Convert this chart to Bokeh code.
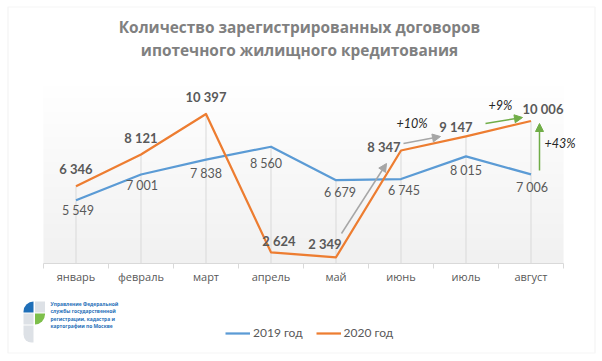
import numpy as np
from bokeh.plotting import figure
from bokeh.models import (Range1d, FixedTicker, Legend, LegendItem, Label,
                          BoxAnnotation, Arrow, NormalHead)
from bokeh.core.properties import value
from bokeh.embed import file_html
from bokeh.resources import INLINE

# ---------------- data ----------------
months = ["январь", "февраль", "март", "апрель", "май", "июнь", "июль", "август"]
y2019 = [5549, 7001, 7838, 8560, 6679, 6745, 8015, 7006]
y2020 = [6346, 8121, 10397, 2624, 2349, 8347, 9147, 10006]
series_names = ["2019 год", "2020 год"]
title_lines = ["Количество зарегистрированных договоров",
               "ипотечного жилищного кредитования"]
growth_labels = ["+10%", "+9%", "+43%"]
logo_lines = ["Управление Федеральной", "службы государственной",
              "регистрации, кадастра и", "картографии по Москве"]
y_min, y_max = 2000, 12000

# ---------------- styles / layout ----------------
BLUE = "#5b9bd5"
ORANGE = "#ed7d31"
GREY_TXT = "#595959"
GRID = "#d9d9d9"
W, H = 602, 361
# plot-area box on the canvas (pixels): left, top, right, bottom
PL, PT, PR, PB = 43, 85, 563, 263

# label offsets (pixels) relative to points
dx2020 = [0, 0, 0, 8, -11, -17, -10, 12]
dy2020 = [-17, -17, -17, -11, -13, -4, -9, -12]
dx2019 = [2, 1, 0, -5, 4, 3, 0, 1]
dy2019 = [10, 11, 14, 17, 12, 11, 14, 13]


def fmt(v):
    return f"{v:,}".replace(",", " ")


x = list(range(1, len(months) + 1))
x_lo, x_hi = 0.5, len(months) + 0.5
sx = (x_hi - x_lo) / (PR - PL)          # data units per pixel
sy = (y_max - y_min) / (PB - PT)
x_range = Range1d(x_lo - PL * sx, x_hi + (W - PR) * sx)
y_range = Range1d(y_min - (H - PB) * sy, y_max + PT * sy)

p = figure(width=W, height=H, output_backend="svg", toolbar_location=None,
           x_range=x_range, y_range=y_range, y_axis_location=None,
           min_border=0)
p.outline_line_color = None
p.xgrid.visible = False
p.ygrid.visible = False
p.background_fill_color = "white"
p.border_fill_color = "white"

# gradient background of the plot area
n = 120
shade = np.linspace(241, 255, n).astype(np.uint32)
img = np.empty((n, 1), dtype=np.uint32)
view = img.view(dtype=np.uint8).reshape((n, 1, 4))
view[:, 0, 0] = shade
view[:, 0, 1] = shade
view[:, 0, 2] = shade
view[:, 0, 3] = 255
p.image_rgba(image=[img], x=x_lo, y=y_min, dw=x_hi - x_lo, dh=y_max - y_min)

# drop lines
tops = [max(a, b) for a, b in zip(y2019, y2020)]
p.segment(x0=x, y0=[y_min] * len(x), x1=x, y1=tops, line_color=GRID, line_width=1)

r19 = p.line(x, y2019, line_color=BLUE, line_width=2.25, line_join="round")
r20 = p.line(x, y2020, line_color=ORANGE, line_width=2.25, line_join="round")

# data labels
p.text(x=x, y=y2019, text=[fmt(v) for v in y2019], x_offset=dx2019, y_offset=dy2019,
       text_align="center", text_baseline="middle", text_font=value("Lato"),
       text_font_size="12.5px", text_color=GREY_TXT)
p.text(x=x, y=y2020, text=[fmt(v) for v in y2020], x_offset=dx2020, y_offset=dy2020,
       text_align="center", text_baseline="middle", text_font=value("Lato"),
       text_font_style="bold", text_font_size="13px", text_color=GREY_TXT)

# x axis, drawn at the bottom of the plot area
ax = p.xaxis[0]
ax.fixed_location = y_min
ax.bounds = (x_lo, x_hi)
ax.ticker = FixedTicker(ticks=x, minor_ticks=[i + 0.5 for i in range(len(months) + 1)])
ax.major_label_overrides = {i: m for i, m in zip(x, months)}
ax.major_tick_line_color = None
ax.major_tick_in = 0
ax.major_tick_out = 0
ax.minor_tick_in = 0
ax.minor_tick_out = 5
ax.minor_tick_line_color = GRID
ax.axis_line_color = GRID
ax.major_label_standoff = 0
ax.major_label_text_font = "Open Sans"
ax.major_label_text_font_size = "11px"
ax.major_label_text_color = GREY_TXT

# legend
legend = Legend(items=[LegendItem(label=series_names[0], renderers=[r19]),
                       LegendItem(label=series_names[1], renderers=[r20])],
                location=(225, 21), orientation="horizontal",
                padding=0, margin=0, spacing=13, label_standoff=3,
                glyph_width=25, glyph_height=14, label_height=14,
                border_line_color=None, background_fill_alpha=0,
                label_text_font="Lato", label_text_font_size="12px",
                label_text_color=GREY_TXT)
p.add_layout(legend)

# title
for i, t in enumerate(title_lines):
    p.add_layout(Label(x=299, y=27 + 23 * i, x_units="canvas", y_units="canvas",
                       text=t, text_align="center", text_baseline="middle",
                       text_font="Open Sans", text_font_style="bold",
                       text_font_size="15.4px", text_color="#808080"))

# growth arrows and labels
arrows = [((341, 233), (386, 163), "#a6a6a6"),
          ((403, 143), (440, 136), "#a6a6a6"),
          ((485, 123), (522, 117), "#70ad47"),
          ((539, 170), (539, 123), "#70ad47")]
for (x0, y0), (x1, y1), c in arrows:
    p.add_layout(Arrow(x_start=x0, y_start=y0, x_end=x1, y_end=y1,
                       start_units="canvas", end_units="canvas",
                       line_color=c, line_width=1.5,
                       end=NormalHead(size=8, fill_color=c, line_color=c)))
for t, (cx, cy) in zip(growth_labels, [(411.5, 123), (500, 105), (559.5, 143)]):
    p.add_layout(Label(x=cx, y=cy, x_units="canvas", y_units="canvas", text=t,
                       text_align="center", text_baseline="middle",
                       text_font="Lato", text_font_style="italic",
                       text_font_size="12.5px", text_color="#262626"))

# logo
logo_boxes = [((23, 301), (33, 312), "#1f6fb8", (10, 0, 0, 0)),
              ((34.5, 301), (44.5, 312), "#dde1e6", 0),
              ((23, 313), (33, 324), "#dde1e6", 0),
              ((34.5, 313), (44.5, 324), "#7dbf4a", (0, 0, 10, 0)),
              ((23, 325), (33, 342), "#dde1e6", (0, 0, 0, 8))]
for (l, t), (r, b), c, rad in logo_boxes:
    p.add_layout(BoxAnnotation(left=l, right=r, top=t, bottom=b,
                               left_units="canvas", right_units="canvas",
                               top_units="canvas", bottom_units="canvas",
                               fill_color=c, fill_alpha=1, line_color=None,
                               border_radius=rad))
for i, t in enumerate(logo_lines):
    p.add_layout(Label(x=50, y=303 + 7.5 * i, x_units="canvas", y_units="canvas",
                       text=t, text_align="left", text_baseline="middle",
                       text_font="Open Sans", text_font_style="bold",
                       text_font_size="4.9px", text_color="#1f6fb8"))

# chart border
p.add_layout(BoxAnnotation(left=7.5, right=594.5, top=6.5, bottom=352.5,
                           left_units="canvas", right_units="canvas",
                           top_units="canvas", bottom_units="canvas",
                           fill_alpha=0, line_color=GRID, line_width=1.2))

open("out.html", "w").write(file_html(p, INLINE))
